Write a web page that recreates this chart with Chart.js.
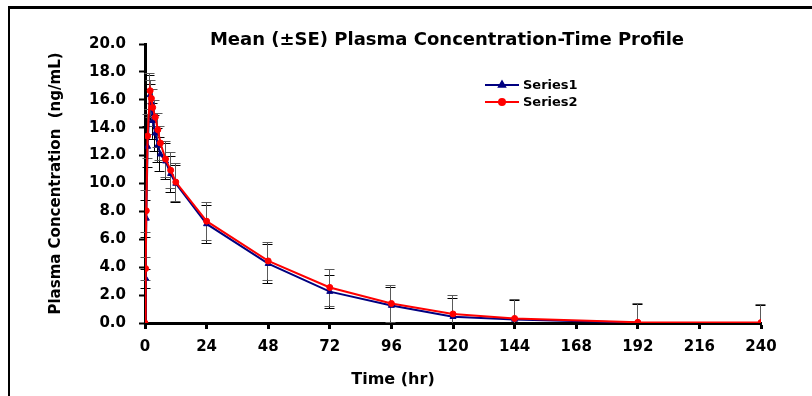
<!DOCTYPE html>
<html>
<head>
<meta charset="utf-8">
<script src="https://cdn.jsdelivr.net/npm/chart.js@4.4.1/dist/chart.umd.min.js"></script>
<style>
    html, body { margin: 0; padding: 0; background: #fff; }
    #wrap { position: relative; width: 812px; height: 396px; overflow: hidden; }
    #frame { position: absolute; left: 8px; top: 6px; width: 820px; height: 400px;
             border-left: 2px solid #000; border-top: 3px solid #000; }
    #chart { position: absolute; left: 0; top: 0; }
</style>
</head>
<body>
<div id="wrap">
    <div id="frame"></div>
    <canvas id="chart" width="812" height="396"></canvas>
</div>
<script>
// sampling times (hr)
const times = [0, 0.25, 0.5, 1, 2, 2.5, 3, 4, 5, 6, 8, 10, 12, 24, 48, 72, 96, 120, 144, 192, 240];

// mean concentrations (ng/mL)
const series1 = [0, 3.2, 7.5, 12.65, 16.35, 15.8, 14.5, 13.6, 12.75, 12.1, 11.6, 10.7, 10.0, 7.1, 4.25, 2.25, 1.25, 0.45, 0.25, 0.02, 0.0];
const series2 = [0, 3.9, 8.05, 13.4, 16.65, 16.1, 15.45, 14.75, 13.85, 12.9, 11.75, 10.95, 10.1, 7.3, 4.45, 2.55, 1.4, 0.65, 0.33, 0.05, 0.03];

// standard errors
const se1 = [0, 0.7, 1.3, 1.5, 1.4, 1.3, 1.3, 1.3, 1.2, 1.2, 1.3, 1.3, 1.3, 1.35, 1.4, 1.2, 1.35, 1.32, 1.42, 1.35, 1.3];
const se2 = [0, 0.8, 1.5, 1.6, 1.3, 1.3, 1.3, 1.2, 1.2, 1.2, 1.3, 1.3, 1.35, 1.35, 1.35, 1.3, 1.3, 1.33, 1.4, 1.38, 1.33];

const seriesNames = ['Series1', 'Series2'];
const xTicks = [0, 24, 48, 72, 96, 120, 144, 168, 192, 216, 240];

const FONT = 'DejaVu Sans';
Chart.defaults.font.family = FONT;
Chart.defaults.color = '#000';

const toPoints = vals => vals.map((v, i) => ({ x: times[i], y: v }));

// vertical error bars with caps, drawn under the markers
const errorBars = {
    id: 'errorBars',
    beforeDatasetsDraw(chart) {
        const { ctx, chartArea, scales: { x, y } } = chart;
        ctx.save();
        ctx.beginPath();
        // clip only below the x axis so bars stop at zero
        ctx.rect(chartArea.left - 8, chartArea.top - 4, chartArea.right - chartArea.left + 16, chartArea.bottom - chartArea.top + 4);
        ctx.clip();
        chart.data.datasets.forEach(ds => {
            ctx.strokeStyle = ds.errorColor;
            ctx.lineWidth = 1;
            ds.data.forEach((p, i) => {
                const e = ds.errors[i];
                if (!e) return;
                const px = Math.round(x.getPixelForValue(p.x)) - 0.5;
                const hi = Math.round(y.getPixelForValue(p.y + e)) + 0.5;
                const lo = y.getPixelForValue(Math.max(0, p.y - e));
                ctx.beginPath();
                ctx.moveTo(px, lo); ctx.lineTo(px, hi);
                ctx.moveTo(px - 5, hi); ctx.lineTo(px + 5, hi);
                if (p.y - e > 0) {
                    const l = Math.round(lo) + 0.5;
                    ctx.moveTo(px - 5, l); ctx.lineTo(px + 5, l);
                }
                ctx.stroke();
            });
        });
        ctx.restore();
    }
};

// title, x-axis title and the legend inside the plot
const decorations = {
    id: 'decorations',
    afterDraw(chart) {
        const { ctx } = chart;
        ctx.save();
        ctx.fillStyle = '#000';
        ctx.textAlign = 'center';
        ctx.textBaseline = 'alphabetic';
        ctx.font = `bold 18px "${FONT}"`;
        ctx.fillText('Mean (±SE) Plasma Concentration-Time Profile', 447, 45);

        ctx.textBaseline = 'middle';
        ctx.font = `bold 16px "${FONT}"`;
        ctx.fillText('Time (hr)', 393, 380);

        // legend
        const rows = [85, 102];
        chart.data.datasets.forEach((ds, i) => {
            const yy = rows[i];
            ctx.strokeStyle = ds.borderColor;
            ctx.lineWidth = 2;
            ctx.beginPath();
            ctx.moveTo(485, yy); ctx.lineTo(519, yy);
            ctx.stroke();
            ctx.fillStyle = ds.borderColor;
            Chart.helpers.drawPoint(ctx, { pointStyle: ds.pointStyle, radius: ds.pointRadius, borderWidth: 1 }, 502, yy);
            ctx.fill();
            ctx.fillStyle = '#000';
            ctx.textAlign = 'left';
            ctx.font = `bold 13px "${FONT}"`;
            ctx.fillText(ds.label, 523, yy + 1);
        });
        ctx.restore();
    }
};

new Chart(document.getElementById('chart'), {
    type: 'line',
    data: {
        datasets: [
            {
                label: seriesNames[0],
                data: toPoints(series1),
                errors: se1,
                errorColor: '#000000',
                borderColor: '#000080',
                backgroundColor: '#000080',
                borderWidth: 2,
                pointStyle: 'triangle',
                pointRadius: 3.5,
                pointBorderWidth: 1,
                order: 1
            },
            {
                label: seriesNames[1],
                data: toPoints(series2),
                errors: se2,
                errorColor: '#5a5a5a',
                borderColor: '#ff0000',
                backgroundColor: '#ff0000',
                borderWidth: 2,
                pointStyle: 'circle',
                pointRadius: 3,
                pointBorderWidth: 1,
                order: 0
            }
        ]
    },
    options: {
        responsive: false,
        animation: false,
        layout: { padding: { top: 44, right: 51, left: 0, bottom: 0 } },
        plugins: {
            legend: { display: false },
            title: { display: false },
            tooltip: { enabled: false }
        },
        scales: {
            x: {
                type: 'linear',
                min: 0,
                max: 240,
                afterBuildTicks: scale => { scale.ticks = xTicks.map(v => ({ value: v })); },
                afterFit: scale => { scale.height = 73; },
                ticks: { font: { size: 15, weight: 'bold' }, padding: 9, maxRotation: 0 },
                grid: { drawOnChartArea: false, drawTicks: true, tickLength: 6, tickWidth: 3, tickColor: '#000' },
                border: { display: true, color: '#000', width: 3 }
            },
            y: {
                min: 0,
                max: 20,
                ticks: { stepSize: 2, font: { size: 15, weight: 'bold' }, padding: 13, callback: v => v.toFixed(1) },
                afterFit: scale => { scale.width = 145; },
                grid: { drawOnChartArea: false, drawTicks: true, tickLength: 6, tickWidth: 2, tickColor: '#000' },
                border: { display: true, color: '#000', width: 3 },
                title: {
                    display: true,
                    text: 'Plasma Concentration  (ng/mL)',
                    font: { size: 15, weight: 'bold' },
                    padding: { top: 47, bottom: 0 }
                }
            }
        }
    },
    plugins: [errorBars, decorations]
});
</script>
</body>
</html>
